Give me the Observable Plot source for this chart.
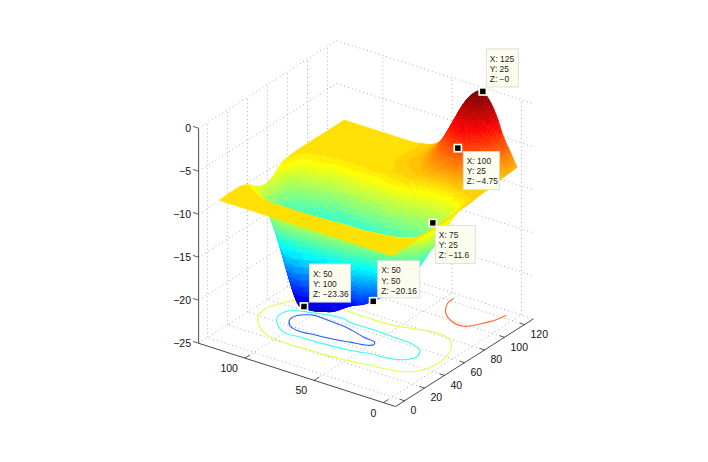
<!DOCTYPE html>
<html><head><meta charset="utf-8">
<script src="https://cdn.jsdelivr.net/npm/d3@7"></script>
<script src="https://cdn.jsdelivr.net/npm/@observablehq/plot@0.6"></script>
<style>html,body{margin:0;background:#fff}svg{display:block}</style>
</head><body><div id="chart"></div>
<script>
// ---------- values ----------
const gridX = [0,5,10,15,20,25,30,35,40,45,50,55,60,65,70,75,80,85,90,95,100,105,110,115,120,125];
const gridY = [0,5,10,15,20,25,30,35,40,45,50,55,60,65,70,75,80,85,90,95,100,105,110,115,120,125];
// one row per gridY value, one column per gridX value
const surfaceZ = [
[-8.6,-8.6,-8.55,-8.55,-8.5,-8.5,-8.45,-8.45,-8.4,-8.4,-8.35,-8.35,-8.3,-8.3,-8.25,-8.2,-8.15,-8.05,-8,-7.95,-7.9,-7.8,-7.7,-7.6,-7.55,-7.5],
[-8.6,-8.55,-8.5,-8.5,-8.55,-8.7,-9,-9.4,-9.8,-10,-10.1,-10,-9.8,-9.5,-9.2,-8.9,-8.6,-8.3,-8,-7.7,-7.4,-7,-6.6,-6.3,-6.1,-6],
[-8.6,-8.55,-8.45,-8.55,-8.65,-8.9,-9.3,-10.1,-10.9,-11.5,-11.8,-11.9,-11.7,-11.2,-10.6,-9.8,-9.2,-8.4,-7.8,-7.2,-6.7,-6.1,-5.5,-5,-4.6,-4.5],
[-8.6,-8.55,-8.45,-8.55,-8.7,-9.1,-9.9,-10.9,-12,-12.9,-13.3,-13.3,-13,-12.4,-11.6,-10.7,-9.9,-8.5,-7.6,-6.6,-5.8,-4.8,-3.9,-3.1,-2.5,-2.3],
[-8.6,-8.55,-8.45,-8.55,-8.75,-9.3,-10.3,-11.8,-13.2,-14.5,-15.2,-14.9,-14.2,-13.3,-12.3,-11.2,-10.1,-8.6,-7.3,-5.9,-4.9,-3.9,-2.8,-1.8,-1.05,-0.8],
[-8.6,-8.55,-8.45,-8.55,-8.8,-9.5,-10.8,-12.4,-14.5,-15.9,-16.6,-15.9,-14.8,-13.8,-12.8,-11.6,-10.3,-8.6,-7.1,-5.85,-4.75,-3.5,-2.2,-1.1,-0.25,0],
[-8.6,-8.55,-8.45,-8.6,-8.9,-9.6,-11.2,-13.2,-15.1,-16.7,-17.6,-16.7,-15.3,-13.9,-12.6,-11.3,-10.2,-8.7,-7.2,-6,-4.9,-3.66,-2.43,-1.37,-0.55,-0.3],
[-8.6,-8.55,-8.45,-8.6,-9,-9.8,-11.6,-13.6,-15.3,-17,-18.3,-17.2,-15.5,-13.8,-12.3,-11,-9.9,-8.7,-7.3,-6.2,-5.33,-4.25,-3.17,-2.24,-1.52,-1.3],
[-8.6,-8.55,-8.45,-8.6,-9,-10,-11.8,-13.9,-15.6,-17.5,-18.9,-17.7,-15.7,-13.9,-12,-10.8,-9.4,-8.5,-7.5,-6.75,-6.08,-5.26,-4.43,-3.72,-3.17,-3],
[-8.6,-8.55,-8.45,-8.6,-9.05,-10.4,-12.2,-14.2,-16.2,-18.2,-19.5,-18.2,-15.9,-14,-12,-10.7,-9.2,-8.1,-7.7,-7.3,-6.92,-6.38,-5.84,-5.37,-5.01,-4.9],
[-8.6,-8.55,-8.45,-8.6,-9.1,-10.7,-12.7,-14.7,-16.8,-18.8,-20.16,-18.7,-16.4,-14.2,-11.9,-10.1,-9,-8.2,-7.95,-7.7,-7.5,-7.2,-6.87,-6.59,-6.37,-6.3],
[-8.6,-8.55,-8.45,-8.6,-9.2,-11,-13,-15.2,-17.8,-20,-20.6,-19,-16.6,-14.4,-12,-10,-8.8,-8.3,-8.05,-7.85,-7.75,-7.7,-7.6,-7.46,-7.34,-7.3],
[-8.6,-8.55,-8.45,-8.6,-9.3,-11.3,-13.4,-15.6,-18.2,-20.3,-21,-19.5,-17.2,-14.6,-12.2,-10.1,-8.9,-8.35,-8.2,-8.05,-7.95,-7.95,-7.95,-7.95,-7.92,-7.9],
[-8.6,-8.55,-8.45,-8.6,-9.4,-11.4,-13.6,-16,-18.6,-20.6,-21.4,-20.2,-17.6,-14.6,-12.2,-10.2,-9,-8.45,-8.35,-8.25,-8.15,-8.1,-8.1,-8.15,-8.2,-8.2],
[-8.6,-8.55,-8.45,-8.6,-9.5,-11.6,-13.9,-16.4,-19.1,-21,-21.9,-20.4,-17.9,-14.6,-12.2,-10.1,-9,-8.5,-8.45,-8.4,-8.35,-8.35,-8.35,-8.35,-8.35,-8.35],
[-8.6,-8.55,-8.45,-8.65,-9.6,-11.8,-13.8,-16.8,-19.7,-21.8,-22.4,-20.9,-17.8,-14.6,-12.2,-9.95,-9,-8.55,-8.5,-8.5,-8.5,-8.5,-8.5,-8.5,-8.5,-8.5],
[-8.6,-8.55,-8.45,-8.65,-9.7,-11.9,-14.1,-17.3,-20.3,-22.2,-22.8,-21.2,-18.2,-15,-12.4,-10.1,-9,-8.6,-8.5,-8.5,-8.5,-8.5,-8.5,-8.5,-8.5,-8.5],
[-8.6,-8.55,-8.45,-8.65,-9.8,-12,-14.2,-17.7,-20.7,-22.5,-23,-21.7,-18.6,-15,-12.4,-10.1,-9,-8.6,-8.5,-8.5,-8.5,-8.5,-8.5,-8.5,-8.5,-8.5],
[-8.6,-8.55,-8.45,-8.65,-9.7,-12,-14.3,-17.9,-21,-22.8,-23.2,-22,-19,-15,-12.3,-10.1,-9,-8.6,-8.5,-8.5,-8.5,-8.5,-8.5,-8.5,-8.5,-8.5],
[-8.6,-8.55,-8.45,-8.65,-9.6,-12,-14.4,-18.2,-21.1,-22.9,-23.3,-22.4,-19.5,-14.6,-12,-10,-9,-8.6,-8.5,-8.5,-8.5,-8.5,-8.5,-8.5,-8.5,-8.5],
[-8.6,-8.55,-8.45,-8.65,-9.6,-12,-14.4,-17.5,-20.9,-22.9,-23.36,-22.3,-19,-14.3,-12,-10,-9,-8.6,-8.5,-8.5,-8.5,-8.5,-8.5,-8.5,-8.5,-8.5],
[-8.6,-8.55,-8.45,-8.6,-9.3,-11,-13.4,-15.9,-18.8,-20.9,-21.9,-19.6,-15,-13,-11.2,-9.7,-8.9,-8.6,-8.5,-8.5,-8.5,-8.5,-8.5,-8.5,-8.5,-8.5],
[-8.6,-8.55,-8.45,-8.55,-8.9,-10.2,-12,-14,-16.2,-18.2,-19,-17,-14.3,-12.4,-10.8,-9.4,-8.8,-8.6,-8.5,-8.5,-8.5,-8.5,-8.5,-8.5,-8.5,-8.5],
[-8.6,-8.55,-8.45,-8.45,-8.6,-9.4,-10.5,-12,-13.6,-15,-15.6,-15.3,-14,-12.2,-10.3,-9.2,-8.7,-8.55,-8.5,-8.5,-8.5,-8.5,-8.5,-8.5,-8.5,-8.5],
[-8.6,-8.55,-8.45,-8.4,-8.5,-8.8,-9.5,-10.6,-11.8,-12.8,-13.2,-13,-12,-10.7,-9.5,-8.9,-8.6,-8.55,-8.5,-8.5,-8.5,-8.5,-8.5,-8.5,-8.5,-8.5],
[-8.6,-8.55,-8.5,-8.5,-8.5,-8.7,-9,-9.5,-9.9,-10.1,-10,-9.6,-9,-8.7,-8.6,-8.55,-8.5,-8.5,-8.5,-8.5,-8.5,-8.5,-8.5,-8.5,-8.5,-8.5]
];
const contourLevels = [-5,-10,-15,-20];
const contourX5  = [123.1,115.8,106.4,99.5,97.9,106.1,114,123.2];
const contourY5  = [44.9,44,38.5,29.8,19.1,12.9,9,7.2];
const contourX10 = [67.6,55.7,49.5,40.3,32.9,24.4,20.9,20.6,21.5,22.4,25.5,28.1,33.7,43.9,57.1,71.8,79.7,81.6,78.4,75.1,74.3,74.5,75,67.6];
const contourY10 = [120.3,126,127.5,125.6,121,110.6,100.8,86.2,69.9,53.7,34.3,19.3,8.9,4.2,4.1,9.2,16.8,29,41.2,53.3,69.5,84.1,89.5,120.3];
const contourX15 = [64.5,65.3,63.5,63.9,62.9,61.6,57.8,50.6,44.1,39.2,37.7,34.5,32,31.6,31.2,37.8,44.7,52.1,57.2,60.7,64.5];
const contourY15 = [92.5,82.3,75.3,62,44.4,29.1,21.9,18.7,21.2,29.7,43.1,55.2,77.4,89.2,101,110.5,115.5,116.1,112.6,103.1,92.5];
const contourX20 = [59.3,57.9,56.4,52.8,51.2,48.2,44.8,43.2,41.5,39,37.5,40.2,46.5,53.2,57.8,59.3];
const contourY20 = [98.4,81.7,71,58.8,49.9,48.3,53.1,61.4,67.5,82.5,95.9,103.2,107.7,107.2,102.1,98.4];
const tipX = [125,100,75,50,50];
const tipY = [25,25,25,50,100];
const tipZ = [0,-4.75,-11.6,-20.16,-23.36];
const tipZLabel = ["−0","−4.75","−11.6","−20.16","−23.36"];
const xTicks = [0,20,40,60,80,100,120];
const yTicks = [0,50,100];
const zTicks = [0,-5,-10,-15,-20,-25];

// ---------- view (layout) ----------
const xLim = [-9,129], yLim = [-8.7,133.5], zLim = [-25,0];
const origin = [395,406], ex = [1,-0.635], ey = [-1.385,-0.445], ez = -8.6;
const px = (X,Y) => origin[0] + (X-xLim[0])*ex[0] + (Y-yLim[0])*ey[0];
const py = (X,Y,Z) => origin[1] + (X-xLim[0])*ex[1] + (Y-yLim[0])*ey[1] + (Z-zLim[0])*ez;
const seg = (X1,Y1,Z1,X2,Y2,Z2) => ({x1:px(X1,Y1),y1:py(X1,Y1,Z1),x2:px(X2,Y2),y2:py(X2,Y2,Z2)});
const tipBox = [[4,36,-42,-4],[6,42,4,42],[3,43,3,41],[5,47,-40,-3],[6,47,-42,-4]];
const tipColor = "#fdfdee", tipBorder = "#dedede", fontFam = "Liberation Sans, Arial, sans-serif";

// jet(64) colours
const jet = d3.range(1,65).map(i => {
  const c = v => Math.round(255*Math.max(0,Math.min(1,v)));
  const r = i<=56 ? (i-24)/16 : 1-(i-56)/16;
  const g = i<=24 ? (i-8)/16 : 1-(i-40)/16;
  const b = i<=8 ? 0.5+i/16 : 1-(i-24)/16;
  return `rgb(${c(r)},${c(g)},${c(b)})`;
});
const colorMin = -24.2;
const thresholds = d3.range(1,64).map(i => colorMin + (0-colorMin)*i/64);

// ---------- facets: the read grid is shaded smoothly, as "shading interp" does ----------
const SHADE = 4;
const cr = (a,b,c,d,t) => 0.5*(2*b + (c-a)*t + (2*a-5*b+4*c-d)*t*t + (3*b-a-3*c+d)*t*t*t);
const clampI = (i,n) => Math.max(0,Math.min(n-1,i));
function shadeAt(ix,s,iy,t) {
  const nx = gridX.length, ny = gridY.length, v = [];
  for (let j=-1;j<=2;j++) {
    const row = surfaceZ[clampI(iy+j,ny)];
    v.push(cr(row[clampI(ix-1,nx)],row[clampI(ix,nx)],row[clampI(ix+1,nx)],row[clampI(ix+2,nx)],s));
  }
  return cr(v[0],v[1],v[2],v[3],t);
}
const fineN = (gridX.length-1)*SHADE + 1;
const fine = [];
for (let j=0;j<fineN;j++) {
  const iy = Math.min(Math.floor(j/SHADE),gridY.length-2), t = j/SHADE-iy, row = [];
  for (let i=0;i<fineN;i++) {
    const ix = Math.min(Math.floor(i/SHADE),gridX.length-2), s = i/SHADE-ix;
    const X = gridX[ix]+s*(gridX[ix+1]-gridX[ix]), Y = gridY[iy]+t*(gridY[iy+1]-gridY[iy]);
    const Z = shadeAt(ix,s,iy,t);
    row.push({Z,u:px(X,Y),v:py(X,Y,Z)});
  }
  fine.push(row);
}
const cells = [];
for (let i=fineN-2;i>=0;i--) {
  for (let j=fineN-2;j>=0;j--) {
    const q = [fine[j][i],fine[j][i+1],fine[j+1][i+1],fine[j+1][i],fine[j][i]];
    const level = (q[0].Z+q[1].Z+q[2].Z+q[3].Z)/4;
    for (const p of q) cells.push({cell:i*1000+j,u:p.u,v:p.v,level});
  }
}

const grid = [];
for (const t of xTicks) {
  grid.push(seg(t,yLim[0],-25,t,yLim[1],-25), seg(t,yLim[1],-25,t,yLim[1],0));
}
for (const t of yTicks) {
  grid.push(seg(xLim[0],t,-25,xLim[1],t,-25), seg(xLim[1],t,-25,xLim[1],t,0));
}
for (const t of zTicks) {
  grid.push(seg(xLim[0],yLim[1],t,xLim[1],yLim[1],t), seg(xLim[1],yLim[1],t,xLim[1],yLim[0],t));
}
const axisLines = [
  seg(xLim[0],yLim[0],-25,xLim[1],yLim[0],-25),
  seg(xLim[0],yLim[0],-25,xLim[0],yLim[1],-25)
];
const zAxisLine = [seg(xLim[0],yLim[1],-25,xLim[0],yLim[1],0)];
const tickMarks = [
  ...xTicks.map(t => seg(t,yLim[0],-25,t,yLim[0]+3.6,-25)),
  ...yTicks.map(t => seg(xLim[0],t,-25,xLim[0]+5,t,-25)),
  ...zTicks.map(t => seg(xLim[0],yLim[1],t,xLim[0],yLim[1]+4,t))
];
const contourRows = (level,xs,ys) => xs.map((x,i) => ({level,u:px(x,ys[i]),v:py(x,ys[i],-25)}));
const contours = [
  contourRows(contourLevels[0],contourX5,contourY5),
  contourRows(contourLevels[1],contourX10,contourY10),
  contourRows(contourLevels[2],contourX15,contourY15),
  contourRows(contourLevels[3],contourX20,contourY20)
];
const tips = tipX.map((X,i) => {
  const u = px(X,tipY[i]), v = py(X,tipY[i],tipZ[i]), b = tipBox[i];
  return {u,v,x1:u+b[0],x2:u+b[1],y1:v+b[2],y2:v+b[3],
    label:`X: ${X}\nY: ${tipY[i]}\nZ: ${tipZLabel[i]}`};
});

const chart = Plot.plot({
  width:708, height:462, margin:0,
  style:{background:"#fff"},
  x:{domain:[0,708],range:[0,708],axis:null},
  y:{domain:[0,462],range:[0,462],axis:null},
  color:{type:"threshold",domain:thresholds,range:jet},
  marks:[
    Plot.link(grid,{x1:"x1",y1:"y1",x2:"x2",y2:"y2",stroke:"#999",strokeWidth:0.8,strokeDasharray:"1 3"}),
    Plot.link(tickMarks,{x1:"x1",y1:"y1",x2:"x2",y2:"y2",stroke:"#333",strokeWidth:0.8}),
    Plot.link(axisLines,{x1:"x1",y1:"y1",x2:"x2",y2:"y2",stroke:"#333",strokeWidth:0.9}),
    Plot.link(zAxisLine,{x1:"x1",y1:"y1",x2:"x2",y2:"y2",stroke:"#666",strokeWidth:1.2}),
    Plot.text(xTicks,{x:d=>px(d,yLim[0]),y:d=>py(d,yLim[0],-25),text:d=>String(d),textAnchor:"start",dx:6,dy:10,fontSize:10.5,fontFamily:fontFam,fill:"#111"}),
    Plot.text(yTicks,{x:d=>px(xLim[0],d),y:d=>py(xLim[0],d,-25),text:d=>String(d),textAnchor:"end",dx:-7,dy:10.5,fontSize:10.5,fontFamily:fontFam,fill:"#111"}),
    Plot.text(zTicks,{x:d=>px(xLim[0],yLim[1]),y:d=>py(xLim[0],yLim[1],d),text:d=>d<0?"−"+(-d):String(d),textAnchor:"end",dx:-7.5,fontSize:10.5,fontFamily:fontFam,fill:"#111"}),
    ...contours.map(rows => Plot.line(rows,{x:"u",y:"v",stroke:"level",strokeWidth:1.1,strokeOpacity:0.85,curve:"catmull-rom"})),
    Plot.line(cells,{x:"u",y:"v",z:"cell",fill:"level",stroke:"level",strokeWidth:0.5}),
    Plot.dot(tips,{x:"u",y:"v",symbol:"square",r:5,fill:tipColor,stroke:"none"}),
    Plot.dot(tips,{x:"u",y:"v",symbol:"square",r:3.1,fill:"#000",stroke:"none"}),
    Plot.rect(tips,{x1:"x1",x2:"x2",y1:"y1",y2:"y2",fill:tipColor,stroke:tipBorder,strokeWidth:1}),
    Plot.text(tips,{x:d=>d.x1+3,y:d=>d.y1+5,text:"label",textAnchor:"start",lineAnchor:"top",lineHeight:1.2,fontSize:8.4,fontFamily:fontFam,fill:"#222"})
  ]
});
document.getElementById("chart").append(chart);
</script></body></html>
